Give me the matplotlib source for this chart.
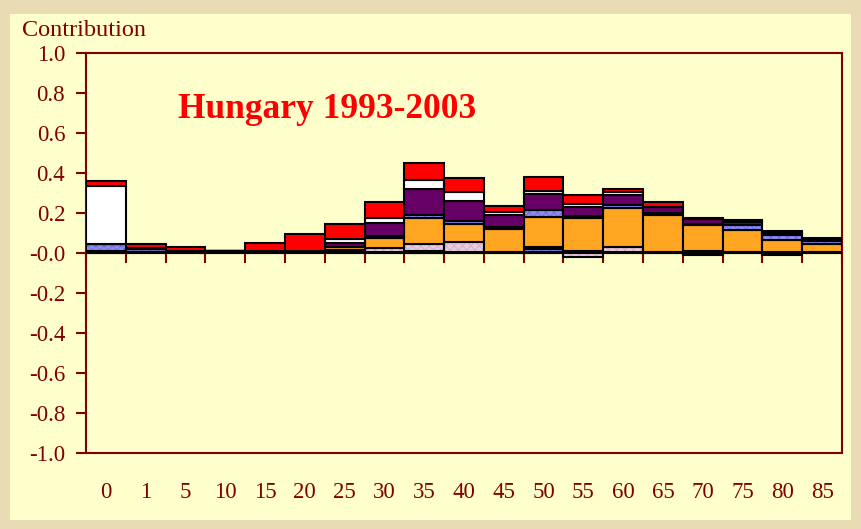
import matplotlib
matplotlib.use("Agg")
import matplotlib.pyplot as plt
from matplotlib.patches import Rectangle
import numpy as np

plt.rcParams['font.family'] = ['Liberation Serif', 'DejaVu Serif']
plt.rcParams['hatch.linewidth'] = 0.6

# age groups and contributions by cause (stacked bottom to top)
ages = ['0', '1', '5', '10', '15', '20', '25', '30', '35', '40',
        '45', '50', '55', '60', '65', '70', '75', '80', '85']

black  = [0.010, 0.005, 0.008, 0.008, 0.010, 0.010, 0.008, 0.003, 0.000, 0.003,
          0.005, 0.003, 0.000, 0.003, 0.005, 0.010, 0.005, 0.005, 0.005]
blue   = [0.037, 0.015, 0, 0, 0, 0, 0.003, 0.002, 0.010, 0.004,
          0, 0.015, 0.010, 0.003, 0, -0.008, 0, -0.008, 0]
pink   = [0, 0, 0, 0, 0, 0, 0.003, 0.018, 0.035, 0.050,
          0, 0.012, -0.020, 0.025, 0, 0, 0, 0, 0]
orange = [0, 0, 0, 0, 0, 0, 0.015, 0.050, 0.130, 0.090,
          0.115, 0.150, 0.165, 0.195, 0.185, 0.130, 0.110, 0.060, 0.040]
blue2  = [0, 0, 0, 0, 0, 0, 0.003, 0.010, 0.015, 0.012,
          0.012, 0.035, 0.012, 0.012, 0.010, 0.005, 0.025, 0.025, 0.015]
purple = [0, 0, 0, 0, 0, 0, 0.020, 0.065, 0.130, 0.100,
          0.060, 0.080, 0.045, 0.050, 0.030, 0.025, 0.015, 0.010, 0.008]
white  = [0.290, 0.003, 0, 0, 0, 0, 0.017, 0.025, 0.045, 0.045,
          0.015, 0.015, 0.015, 0.015, 0, 0, 0.005, 0, 0]
red    = [0.023, 0.022, 0.020, 0, 0.038, 0.083, 0.075, 0.080, 0.085, 0.070,
          0.030, 0.070, 0.045, 0.015, 0.025, 0.003, 0.005, 0.008, 0.005]

series = [black, blue, pink, orange, blue2, purple, white, red]
colours = ['#000000', '#8C8CF5', '#E6CCE0', '#FFA522', '#8C8CF5',
           '#660066', '#FFFFFF', '#FF0000']
hatches = [None, 'xxxx', 'xxxx', None, 'xxxx', None, None, None]
hatch_cols = [None, '#6A6AE0', '#CFAFCB', None, '#6A6AE0', None, None, None]

dark = '#800000'

fig = plt.figure(figsize=(8.61, 5.29), dpi=100)
fig.patch.set_facecolor('#E9DBB4')
fig.patches.append(Rectangle((10 / 861, 9 / 529), 841 / 861, 506 / 529,
                             transform=fig.transFigure, facecolor='#FFFFCC',
                             edgecolor='none', zorder=-5))

ax = fig.add_axes([86 / 861, 1 - 453 / 529, 756 / 861, 400 / 529])
ax.set_facecolor('#FFFFCC')

x = np.arange(len(ages))
pos_base = np.zeros(len(ages))
neg_base = np.zeros(len(ages))
for vals, col, h, hc in zip(series, colours, hatches, hatch_cols):
    v = np.array(vals)
    bottom = np.where(v >= 0, pos_base, neg_base)
    if h:
        # dotted fill first, then the black outline on top
        ax.bar(x, v, width=1.0, bottom=bottom, color=col, hatch=h,
               edgecolor=hc, linewidth=0, zorder=3)
        ax.bar(x, v, width=1.0, bottom=bottom, fill=False,
               edgecolor='black', linewidth=1.5, zorder=3)
    else:
        ax.bar(x, v, width=1.0, bottom=bottom, color=col,
               edgecolor='black', linewidth=1.5, zorder=3)
    pos_base += np.where(v > 0, v, 0)
    neg_base += np.where(v < 0, v, 0)

ax.set_xlim(-0.5, len(ages) - 0.5)
ax.set_ylim(-1.0, 1.0)
yt = np.arange(-1.0, 1.01, 0.2)
ax.set_yticks(yt)
ax.set_yticklabels([f'{t:.1f}' for t in yt])
ax.tick_params(axis='y', direction='out', length=7, width=1.5, color=dark,
               labelcolor=dark, labelsize=16.5, pad=8)

ax.set_xticks(x)
ax.set_xticklabels(ages)
ax.tick_params(axis='x', length=0, labelcolor=dark, labelsize=16.5, pad=21)

for sp in ax.spines.values():
    sp.set_color(dark)
    sp.set_linewidth(1.5)

# zero line with ticks at the bar boundaries
zero = ax.secondary_xaxis(0.5)
zero.set_alignment('bottom')
zero.set_xticks(np.arange(len(ages) + 1) - 0.5)
zero.tick_params(direction='out', length=7, width=1.5, color=dark,
                 labelbottom=False, labeltop=False)
zero.spines['bottom'].set_color(dark)
zero.spines['bottom'].set_linewidth(1.5)

fig.text(22 / 861, 1 - 31 / 529, 'Contribution', color=dark, fontsize=17.5,
         va='center', ha='left')
ax.text(0.122, 0.86, 'Hungary 1993-2003', color='#FF0000', fontsize=25.5,
        fontweight='bold', transform=ax.transAxes, va='center', ha='left')

fig.savefig('out.png', dpi=100, facecolor=fig.get_facecolor())
